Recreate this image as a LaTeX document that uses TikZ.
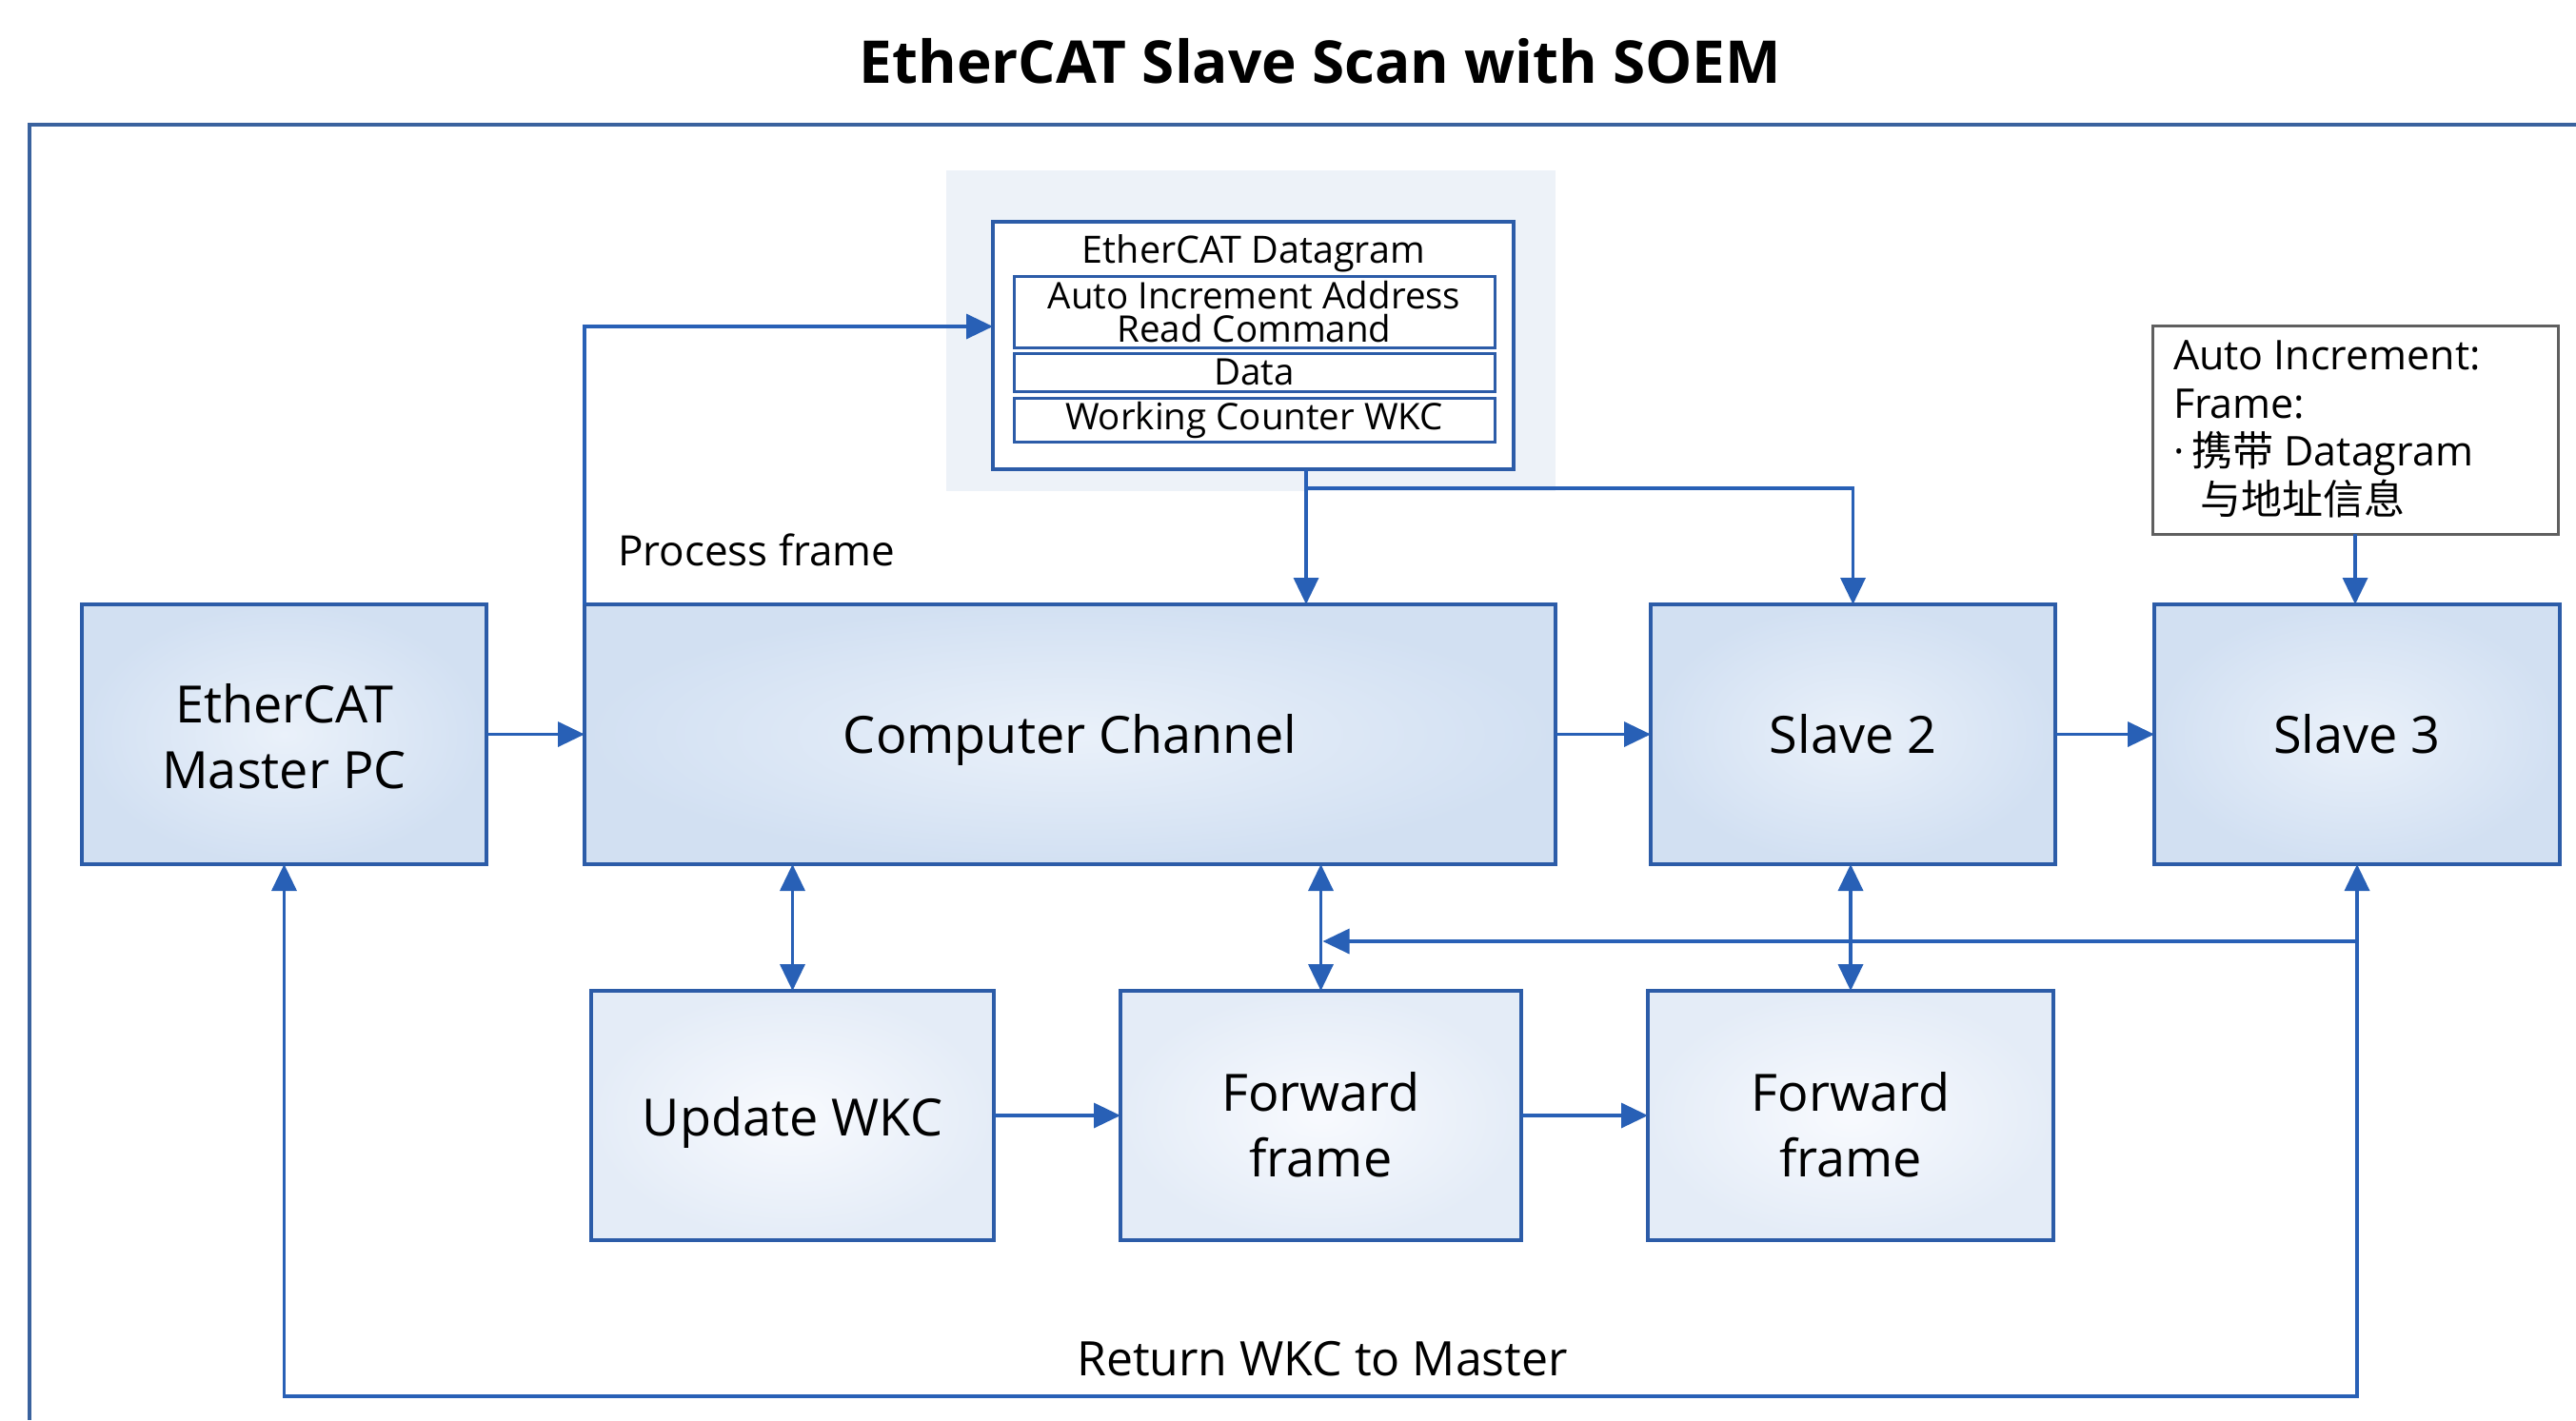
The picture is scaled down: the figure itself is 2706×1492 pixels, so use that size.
\documentclass[tikz,border=0pt]{standalone}
\usepackage{fontspec}
\setmainfont{Open Sans}
\newfontfamily\cjkfont{Noto Sans CJK SC}
\usetikzlibrary{arrows.meta,calc}
\definecolor{boxblue}{RGB}{44,92,168}
\definecolor{arrblue}{RGB}{40,96,182}
\definecolor{framblue}{RGB}{58,98,158}
\definecolor{fillin}{RGB}{234,241,250}
\definecolor{fillout}{RGB}{210,224,242}
\definecolor{lowin}{RGB}{248,250,254}
\definecolor{lowout}{RGB}{228,236,247}
\definecolor{panel}{RGB}{237,242,248}
\definecolor{graybd}{RGB}{95,95,95}
\newcommand\lowtext[2]{\raisebox{-#1}[\height][\depth]{\begin{tabular}{@{}c@{}}#2\end{tabular}}}
\begin{document}
\begin{tikzpicture}[x=1pt,y=-1pt,
  every node/.style={inner sep=0pt,outer sep=0pt},
  bigbox/.style={draw=boxblue,line width=3.5pt,inner color=fillin,outer color=fillout,
    minimum height=273pt,align=center,font=\fontsize{54}{69}\selectfont},
  lowbox/.style={draw=boxblue,line width=3.5pt,inner color=lowin,outer color=lowout,
    minimum height=262pt,align=center,font=\fontsize{54}{69}\selectfont},
  field/.style={draw=boxblue,line width=3pt,fill=white,minimum width=505pt,
    align=center,font=\fontsize{38.5}{35}\selectfont},
  conn/.style={draw=arrblue,line width=3.5pt},
  tip/.style={-{Triangle[length=28pt,width=26pt]}},
  tipboth/.style={{Triangle[length=28pt,width=26pt]}-{Triangle[length=28pt,width=26pt]}}
]
\useasboundingbox (0,0) rectangle (2706,1492);
\fill[white] (0,0) rectangle (2706,1492);

% title
\node[font=\bfseries\fontsize{62}{62}\selectfont] (title) at (1387,64) {EtherCAT Slave Scan with SOEM};

% outer frame
\draw[framblue,line width=4pt] (2706,131) -- (31,131) -- (31,1492);

% datagram panel
\node[fill=panel,minimum width=640pt,minimum height=337pt] (panel) at (1314,347.5) {};
\node[draw=boxblue,line width=3.5pt,fill=white,minimum width=547pt,minimum height=260pt] (dgo) at (1316.5,363) {};
\node[font=\fontsize{39.5}{39.5}\selectfont] (dgt) at (1317,266) {EtherCAT Datagram};
\node[field,minimum height=75pt] (r1) at (1317.5,327.5) {Auto Increment Address\\Read Command};
\node[field,minimum height=40pt] (r2) at (1317.5,391) {Data};
\node[field,minimum height=46pt] (r3) at (1317.5,441) {Working Counter WKC};

% auto increment note
\node[draw=graybd,line width=3pt,fill=white,minimum width=426pt,minimum height=219pt] (auto) at (2474,451.5) {};
\node[anchor=west,align=left,font=\fontsize{43}{51.5}\selectfont] (autot) at (2283,451)
  {Auto Increment:\\Frame:\\[-2pt]·\hspace{8pt}{\cjkfont 携带} Datagram\\\hspace{28pt}{\cjkfont 与地址信息}};

% main row
\node[bigbox,minimum width=425pt] (master) at (298.5,771.5) {\lowtext{9pt}{EtherCAT\\Master PC}};
\node[bigbox,minimum width=1020pt] (cc) at (1124,771.5) {\lowtext{6pt}{Computer Channel}};
\node[bigbox,minimum width=425pt] (s2) at (1946.5,771.5) {\lowtext{6pt}{Slave 2}};
\node[bigbox,minimum width=426pt] (s3) at (2476,771.5) {\lowtext{6pt}{Slave 3}};

% lower row
\node[lowbox,minimum width=423pt] (uw) at (832.5,1172) {\lowtext{8pt}{Update WKC}};
\node[lowbox,minimum width=421pt] (ff1) at (1387.5,1172) {\lowtext{16pt}{Forward\\frame}};
\node[lowbox,minimum width=426pt] (ff2) at (1944,1172) {\lowtext{16pt}{Forward\\frame}};

% labels
\node[anchor=west,font=\fontsize{44}{44}\selectfont] (pf) at (649,578) {Process frame};
\node[font=\fontsize{50}{50}\selectfont] (ret) at (1389,1428) {Return WKC to Master};

% connectors
\draw[conn,tip] (master.east) -- (cc.west);
\draw[conn,tip] (cc.east) -- (s2.west);
\draw[conn,tip] (s2.east) -- (s3.west);
\draw[conn,tip] (uw.east) -- (ff1.west);
\draw[conn,tip] (ff1.east) -- (ff2.west);
\draw[conn,tipboth] (cc.south -| uw.north) -- (uw.north);
\draw[conn,tipboth] (cc.south -| ff1.north) -- (ff1.north);
\draw[conn,tipboth] (s2.south -| ff2.north) -- (ff2.north);

\coordinate (pfup) at (cc.north west |- 0,343);
\draw[conn,tip] (cc.north west) -- (pfup) -- (dgo.west |- pfup);

\coordinate (dgdown) at (dgo.south -| 1372,0);
\coordinate (br) at (1372,513);
\draw[conn,tip] (dgdown) -- (cc.north -| dgdown);
\draw[conn,tip] (br) -| (s2.north);
\draw[conn,tip] (auto.south) -- (auto.south |- s3.north);

\coordinate (rr) at (s3.south |- 0,1467);
\coordinate (rl) at (master.south |- 0,1467);
\draw[conn,tipboth] (s3.south) -- (rr) -- (rl) -- (master.south);
\coordinate (bj) at (s3.south |- 0,989);
\draw[conn,tip] (bj) -- ($(ff1.north |- bj)+(2,0)$);
\end{tikzpicture}
\end{document}
